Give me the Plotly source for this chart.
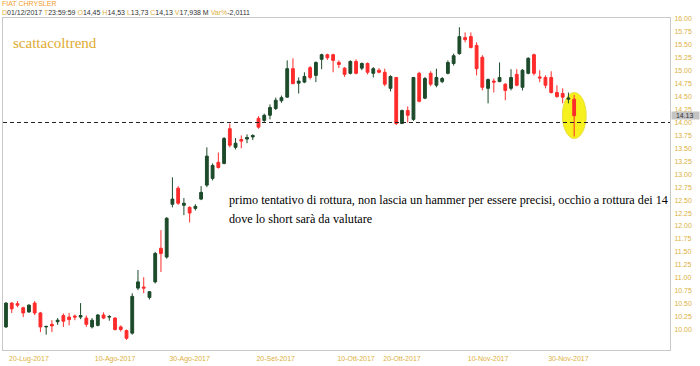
import pandas as pd
import plotly.graph_objects as go

# ---- data ----
dates = [d.strftime("%Y-%m-%d") for d in pd.bdate_range("2017-07-14", "2017-12-01") if d.strftime("%Y-%m-%d") != "2017-08-15"]

opens = [10.05, 10.51, 10.50, 10.42, 10.34, 10.51, 10.32, 10.05, 10.10, 10.15,
         10.27, 10.24, 10.26, 10.24, 10.22, 10.05, 10.08, 10.28, 10.24, 10.22,
         10.05, 9.98, 9.93, 10.80, 10.82, 10.62, 10.92, 11.57, 11.40, 12.42,
         12.73, 12.40, 12.36, 12.34, 12.52, 12.79, 12.92, 13.23, 13.21, 13.88,
         13.52, 13.67, 13.68, 13.72, 14.08, 14.04, 14.14, 14.27, 14.42, 14.49,
         15.04, 14.76, 14.78, 15.06, 14.91, 15.22, 15.31, 15.31, 15.16, 15.05,
         14.95, 15.18, 15.05, 15.14, 14.95, 15.01, 14.97, 14.66, 14.87, 13.98,
         14.23, 14.06, 14.95, 14.47, 14.95, 14.72, 14.79, 14.95, 15.14, 15.33,
         15.64, 15.66, 15.49, 15.26, 14.66, 14.80, 14.79, 14.74, 14.66, 14.93,
         14.68, 14.95, 15.31, 14.88, 14.87, 14.87, 14.58, 14.56, 14.45, 14.45]
highs = [10.53, 10.53, 10.55, 10.44, 10.49, 10.55, 10.34, 10.07, 10.18, 10.22,
         10.31, 10.32, 10.29, 10.51, 10.27, 10.22, 10.30, 10.33, 10.28, 10.24,
         10.08, 10.00, 10.70, 11.15, 11.01, 10.74, 11.50, 11.92, 12.17, 12.94,
         12.77, 12.54, 12.38, 12.42, 12.77, 13.52, 13.21, 13.42, 13.72, 13.98,
         13.70, 13.75, 13.77, 13.77, 14.12, 14.17, 14.35, 14.48, 14.52, 15.20,
         15.24, 14.87, 14.97, 15.09, 15.18, 15.33, 15.33, 15.33, 15.20, 15.07,
         15.20, 15.22, 15.16, 15.16, 15.07, 15.05, 15.04, 14.91, 14.88, 14.25,
         14.31, 14.88, 14.98, 14.88, 14.99, 15.04, 14.88, 15.20, 15.33, 15.84,
         15.74, 15.74, 15.55, 15.30, 14.85, 14.85, 15.16, 14.76, 15.03, 15.03,
         15.03, 15.26, 15.33, 15.01, 14.91, 14.99, 14.72, 14.66, 14.58, 14.53]
lows = [10.03, 10.32, 10.43, 10.24, 10.32, 10.28, 9.95, 9.90, 9.95, 10.09,
        10.05, 10.08, 10.18, 10.20, 10.05, 10.02, 10.06, 10.20, 10.17, 9.98,
        9.96, 9.80, 9.90, 10.76, 10.70, 10.58, 10.89, 11.11, 11.37, 12.36,
        12.41, 12.21, 12.07, 12.30, 12.50, 12.75, 12.88, 13.11, 13.19, 13.52,
        13.48, 13.50, 13.60, 13.66, 13.88, 14.00, 14.06, 14.24, 14.38, 14.48,
        14.74, 14.56, 14.76, 14.83, 14.78, 15.03, 15.21, 14.97, 15.05, 14.88,
        14.93, 14.93, 15.01, 14.93, 14.87, 14.95, 14.70, 14.60, 13.95, 13.97,
        14.00, 14.03, 14.39, 14.45, 14.70, 14.68, 14.76, 14.93, 15.10, 15.31,
        15.55, 15.43, 14.91, 14.62, 14.37, 14.58, 14.78, 14.43, 14.62, 14.70,
        14.62, 14.93, 14.91, 14.78, 14.66, 14.56, 14.48, 14.37, 14.37, 13.73]
closes = [10.51, 10.40, 10.47, 10.32, 10.47, 10.32, 10.05, 10.06, 10.07, 10.18,
          10.16, 10.19, 10.24, 10.27, 10.10, 10.18, 10.28, 10.22, 10.25, 10.00,
          10.00, 9.83, 10.64, 10.92, 10.80, 10.73, 11.47, 11.47, 12.15, 12.52,
          12.44, 12.44, 12.25, 12.38, 12.65, 13.35, 13.17, 13.13, 13.69, 13.56,
          13.60, 13.64, 13.71, 13.75, 13.91, 14.14, 14.29, 14.43, 14.48, 15.04,
          14.75, 14.80, 14.89, 14.87, 15.16, 15.31, 15.25, 15.20, 15.12, 14.93,
          15.18, 14.95, 15.14, 14.97, 15.04, 14.97, 14.74, 14.89, 13.98, 14.23,
          14.14, 14.87, 14.41, 14.85, 14.74, 14.87, 14.85, 15.16, 15.29, 15.66,
          15.60, 15.45, 15.04, 14.68, 14.83, 14.78, 14.87, 14.62, 14.87, 14.72,
          15.01, 15.24, 14.95, 14.86, 14.72, 14.58, 14.50, 14.49, 14.47, 14.13]

tick_dates = ["2017-07-20", "2017-08-10", "2017-08-30", "2017-09-20",
              "2017-10-10", "2017-10-20", "2017-11-10", "2017-11-30"]
tick_labels = ["20-Lug-2017", "10-Ago-2017", "30-Ago-2017", "20-Set-2017",
               "10-Ott-2017", "20-Ott-2017", "10-Nov-2017", "30-Nov-2017"]
y_ticks = [10 + 0.25 * i for i in range(25)]
support_level = 14.00

GOLD = "#dcb040"
UP = "#1c4a2a"
DOWN = "#ff2b2b"

W, H = 700, 366
ML, MR, MT, MB = 3, 30, 18, 16
PW, PH = W - ML - MR, H - MT - MB


def px(x):
    return (x - ML) / PW


def py(y):
    return 1 - (y - MT) / PH


fig = go.Figure()
fig.add_trace(go.Candlestick(
    x=dates, open=opens, high=highs, low=lows, close=closes,
    increasing=dict(line=dict(color=UP, width=1), fillcolor=UP),
    decreasing=dict(line=dict(color=DOWN, width=1), fillcolor=DOWN),
    whiskerwidth=0, showlegend=False, hoverinfo="skip",
))

# yellow highlight ellipse around last candle
last_i = len(dates) - 1
fig.add_shape(type="circle", xref="x", yref="y",
              x0=last_i - 2.05, x1=last_i + 2.1, y0=13.69, y1=14.58,
              fillcolor="#f6f01e", line=dict(color="#e8e040", width=1), layer="below")

# support dashed line
fig.add_shape(type="line", xref="paper", yref="y", x0=0, x1=1,
              y0=support_level, y1=support_level,
              line=dict(color="#222222", width=1, dash="4px,3px"))

anns = []
anns.append(dict(xref="paper", yref="paper", x=px(0), y=py(4), xanchor="left", yanchor="middle",
                 text="FIAT CHRYSLER", showarrow=False,
                 font=dict(family="Liberation Sans, Arial", size=7, color="#f0a030")))
hdr = [("D", "01/12/2017"), ("T", "23:59:59"), ("O", "14,45"), ("H", "14,53"),
       ("L", "13,73"), ("C", "14,13"), ("V", "17,938 M"), ("Var%", "-2,0111")]
hdr_text = " ".join(f"<span style='color:{GOLD}'>{k}</span><span style='color:#333333'>{v}</span>" for k, v in hdr)
anns.append(dict(xref="paper", yref="paper", x=px(0), y=py(12.5), xanchor="left", yanchor="middle",
                 text=hdr_text, showarrow=False,
                 font=dict(family="Liberation Sans, Arial", size=7, color="#333333")))
anns.append(dict(xref="paper", yref="paper", x=px(11), y=py(43), xanchor="left", yanchor="middle",
                 text="scattacoltrend", showarrow=False,
                 font=dict(family="Liberation Serif, Times New Roman, serif", size=15, color="#e0aa30")))
anns.append(dict(xref="paper", yref="paper", x=px(227), y=py(200), xanchor="left", yanchor="middle",
                 text="primo tentativo di rottura, non lascia un hammer per essere precisi, occhio a rottura dei 14",
                 showarrow=False,
                 font=dict(family="Liberation Serif, Times New Roman, serif", size=12.2, color="#000000")))
anns.append(dict(xref="paper", yref="paper", x=px(227), y=py(219), xanchor="left", yanchor="middle",
                 text="dove lo short sarà da valutare",
                 showarrow=False,
                 font=dict(family="Liberation Serif, Times New Roman, serif", size=12.2, color="#000000")))
anns.append(dict(xref="paper", yref="y", x=1, y=closes[-1], xanchor="left", yanchor="middle",
                 text=f"&nbsp;&nbsp;{closes[-1]:.2f}&nbsp;&nbsp;&nbsp;", showarrow=False, bgcolor="#c4c4c4",
                 borderpad=0, xshift=1,
                 font=dict(family="Liberation Sans, Arial", size=7, color="#333333")))

fig.update_layout(
    width=W, height=H, margin=dict(l=ML, r=MR, t=MT, b=MB),
    paper_bgcolor="white", plot_bgcolor="white",
    annotations=anns,
    xaxis=dict(type="category", range=[-0.52, 115.7], rangeslider=dict(visible=False),
               tickvals=tick_dates, ticktext=tick_labels, tickangle=0,
               tickfont=dict(family="Liberation Sans, Arial", size=7, color=GOLD),
               showgrid=False, zeroline=False, showline=True, mirror=True,
               linecolor="#c8c8c8", linewidth=1, ticks="", ticklabelstandoff=2),
    yaxis=dict(side="right", range=[9.604, 16.019], tickvals=y_ticks, tickformat=".2f",
               tickfont=dict(family="Liberation Sans, Arial", size=7, color=GOLD),
               showgrid=False, zeroline=False, showline=True, mirror=True,
               linecolor="#c8c8c8", linewidth=1, ticks="", ticklabelstandoff=2),
)

fig.write_html("out.html")
